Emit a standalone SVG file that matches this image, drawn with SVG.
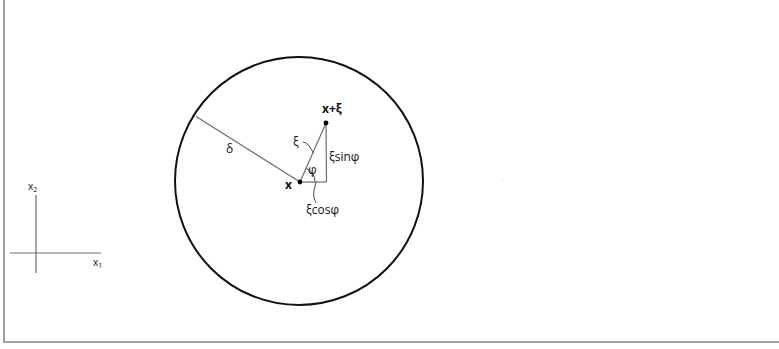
<svg xmlns="http://www.w3.org/2000/svg" width="779" height="349" viewBox="0 0 779 349">
<style>
.t{font-family:"Open Sans","Liberation Sans",sans-serif;font-size:12px;fill:#111}
.b{font-weight:bold}
.s{font-family:"Open Sans","Liberation Sans",sans-serif;font-size:10px;fill:#111}
.ln{stroke:#6e6e6e;stroke-width:1.2;fill:none}
.ld{stroke:#444;stroke-width:1;fill:none}
</style>
<rect width="779" height="349" fill="#fff"/>
<g id="frame" stroke="#a0a0a0" stroke-width="2" fill="none">
<line x1="4" y1="0" x2="4" y2="342"/>
<line x1="3" y1="342" x2="779" y2="342"/>
</g>
<g id="circle"><circle cx="299" cy="181" r="124" fill="none" stroke="#111" stroke-width="2"/></g>
<g id="connectors">
<line class="ln" x1="196" y1="116.5" x2="300" y2="182"/>
<line class="ln" x1="300" y1="182" x2="326" y2="123"/>
<line class="ln" x1="326" y1="123" x2="326.5" y2="182"/>
<line class="ln" x1="300" y1="182" x2="326.5" y2="182"/>
<path class="ld" d="M315 182 A15 15 0 0 0 306.2 168.3"/>
<path class="ld" d="M303 142 C309 143 310 148 313.5 153"/>
<path class="ld" d="M316 182 C314 190 312 195 316 203"/>
</g>
<g id="pt-x"><circle cx="300" cy="182" r="2.4" fill="#000"/><text class="t b" x="285" y="189">x</text></g>
<g id="pt-xxi"><circle cx="326" cy="123" r="2.4" fill="#000"/><text class="t b" x="322" y="113">x+ξ</text></g>
<g id="labels">
<text class="t" x="226" y="153">δ</text>
<text class="t" x="293" y="146">ξ</text>
<text class="t" x="329" y="161">ξsinφ</text>
<text class="t" x="308" y="174">φ</text>
<text class="t" x="306" y="214">ξcosφ</text>
</g>
<g id="axes">
<line class="ln" x1="36" y1="195" x2="36" y2="273"/>
<line class="ln" x1="10" y1="253" x2="101" y2="253"/>
<text class="s" x="28" y="190">x<tspan font-size="7" dy="2">2</tspan></text>
<text class="s" x="93" y="266">x<tspan font-size="7" dy="2">1</tspan></text>
</g>
<rect x="502" y="179" width="1" height="1" fill="#ccc"/>
</svg>
